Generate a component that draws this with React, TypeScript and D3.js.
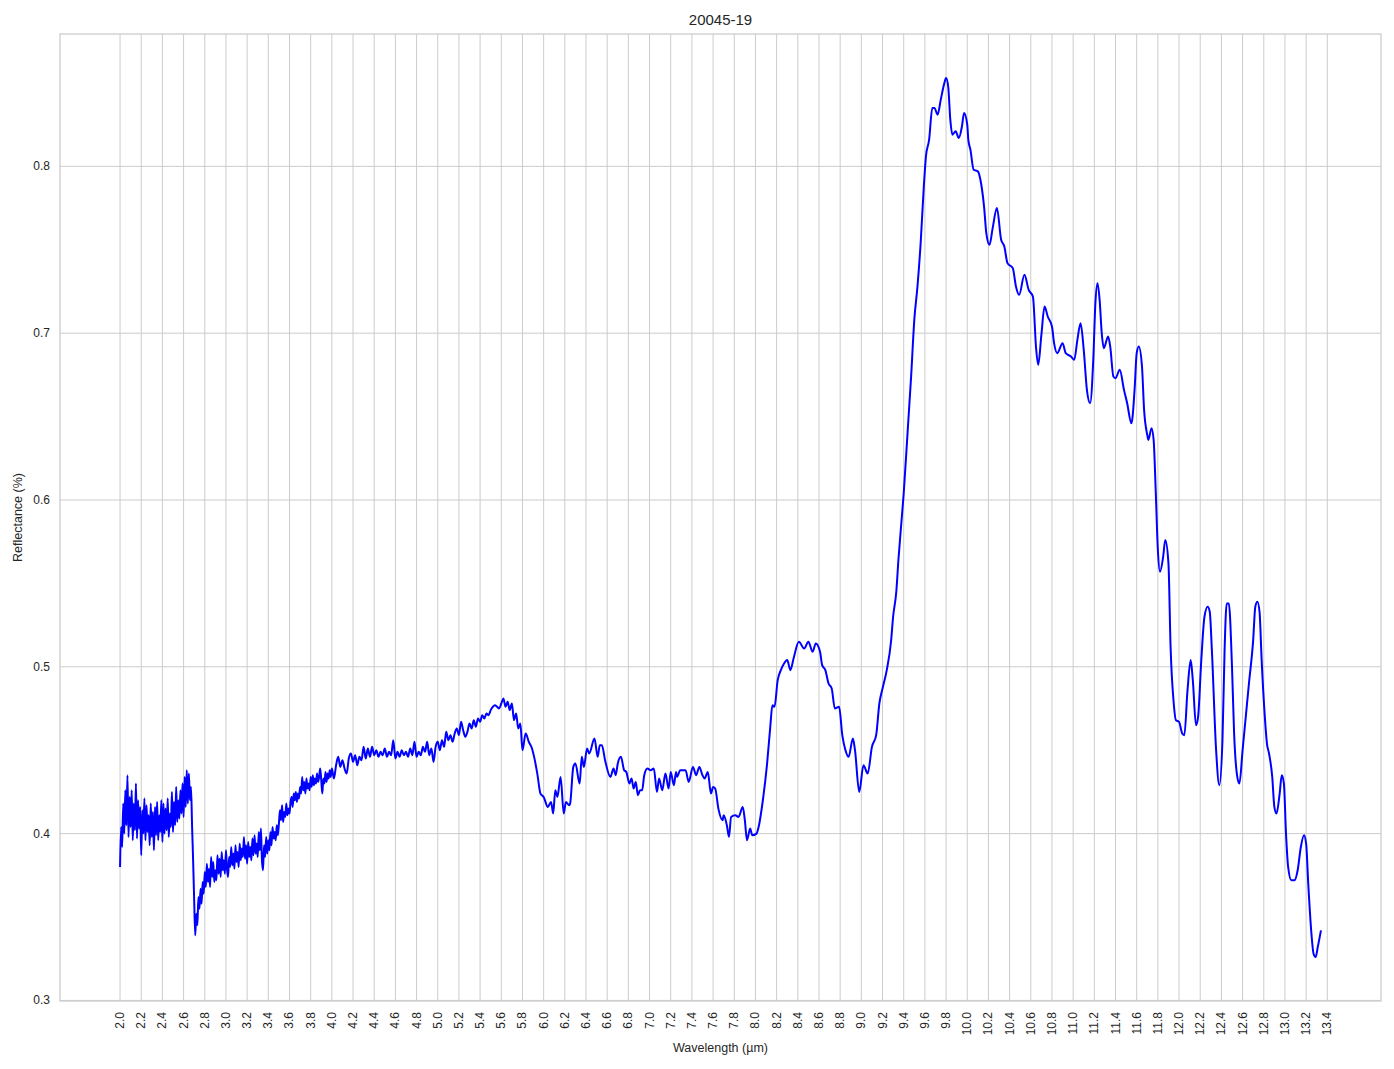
import React from "react";
import * as d3 from "d3";

const chartTitle = "20045-19";
const xLabel = "Wavelength (µm)";
const yLabel = "Reflectance (%)";

const xTicks = d3.range(0, 58).map((i) => +(2.0 + i * 0.2).toFixed(1));
const yTicks = [0.3, 0.4, 0.5, 0.6, 0.7, 0.8];

// 2.00 - 2.70 µm, sampled every 0.01 µm
const nirStart = 2.0;
const nirStep = 0.01;
const nirValues = [
  0.380, 0.404, 0.392, 0.418, 0.400, 0.426, 0.405, 0.435, 0.398, 0.422,
  0.404, 0.426, 0.396, 0.418, 0.402, 0.430, 0.397, 0.420, 0.403, 0.416,
  0.387, 0.414, 0.400, 0.421, 0.396, 0.417, 0.401, 0.411, 0.393, 0.418,
  0.398, 0.413, 0.390, 0.416, 0.399, 0.419, 0.396, 0.411, 0.401, 0.420,
  0.395, 0.418, 0.400, 0.415, 0.402, 0.421, 0.398, 0.412, 0.404, 0.425,
  0.401, 0.419, 0.405, 0.428, 0.407, 0.420, 0.409, 0.426, 0.412, 0.430,
  0.410, 0.434, 0.416, 0.438, 0.418, 0.436, 0.420, 0.428, 0.405, 0.384,
  0.360,
];

// 2.71 - 3.99 µm, sampled every 0.01 µm
const swirStart = 2.71;
const swirStep = 0.01;
const swirValues = [
  0.339, 0.352, 0.345, 0.362, 0.355, 0.367, 0.358, 0.371, 0.364, 0.377,
  0.368, 0.382, 0.371, 0.379, 0.368, 0.386, 0.374, 0.383, 0.371, 0.378,
  0.372, 0.387, 0.376, 0.385, 0.374, 0.389, 0.378, 0.384, 0.376, 0.390,
  0.379, 0.374, 0.386, 0.380, 0.392, 0.381, 0.388, 0.379, 0.393, 0.383,
  0.389, 0.380, 0.394, 0.384, 0.391, 0.386, 0.398, 0.385, 0.393, 0.382,
  0.395, 0.386, 0.392, 0.384, 0.397, 0.387, 0.399, 0.388, 0.394, 0.386,
  0.401, 0.390, 0.403, 0.384, 0.378, 0.393, 0.386, 0.398, 0.388, 0.396,
  0.390, 0.401, 0.393, 0.404, 0.397, 0.401, 0.396, 0.405, 0.399, 0.406,
  0.414, 0.408, 0.417, 0.407, 0.413, 0.410, 0.418, 0.411, 0.415, 0.412,
  0.419, 0.422, 0.416, 0.424, 0.420, 0.425, 0.419, 0.424, 0.421, 0.428,
  0.424, 0.434, 0.426, 0.431, 0.424, 0.433, 0.427, 0.430, 0.426, 0.434,
  0.428, 0.435, 0.429, 0.433, 0.430, 0.436, 0.431, 0.434, 0.439, 0.432,
  0.424, 0.433, 0.430, 0.437, 0.431, 0.436, 0.433, 0.438, 0.434,
];

// 4.00 - 5.80 µm, sampled every 0.02 µm
const mwirStart = 4.0;
const mwirStep = 0.02;
const mwirValues = [
  0.439, 0.433, 0.441, 0.446, 0.440, 0.444, 0.439, 0.436, 0.445, 0.448,
  0.443, 0.447, 0.441, 0.446, 0.444, 0.452, 0.445, 0.451, 0.446, 0.452,
  0.447, 0.450, 0.446, 0.449, 0.447, 0.451, 0.446, 0.449, 0.447, 0.456,
  0.445, 0.449, 0.446, 0.450, 0.447, 0.449, 0.446, 0.451, 0.447, 0.455,
  0.446, 0.449, 0.447, 0.452, 0.449, 0.455, 0.447, 0.451, 0.443, 0.452,
  0.455, 0.450, 0.456, 0.452, 0.461, 0.456, 0.459, 0.455, 0.460, 0.463,
  0.459, 0.467, 0.462, 0.458, 0.461, 0.466, 0.463, 0.468, 0.464, 0.469,
  0.467, 0.471, 0.469, 0.472, 0.471, 0.474, 0.476, 0.477, 0.476, 0.475,
  0.478, 0.481, 0.476, 0.479, 0.474, 0.478, 0.468, 0.472, 0.463, 0.466,
  0.450,
];

// 5.83 - 13.34 µm, [wavelength, reflectance]
const tirPoints = [
  [5.83, 0.460], [5.86, 0.455], [5.89, 0.451], [5.91, 0.446], [5.94, 0.436],
  [5.97, 0.424], [6.00, 0.422], [6.04, 0.416], [6.07, 0.419], [6.09, 0.412],
  [6.11, 0.426], [6.13, 0.422], [6.16, 0.434], [6.19, 0.412], [6.21, 0.419],
  [6.24, 0.417], [6.25, 0.418], [6.28, 0.440], [6.30, 0.442], [6.34, 0.430],
  [6.36, 0.446], [6.38, 0.440], [6.41, 0.451], [6.43, 0.448], [6.48, 0.457],
  [6.51, 0.446], [6.53, 0.453], [6.55, 0.453], [6.58, 0.444], [6.63, 0.434],
  [6.66, 0.439], [6.68, 0.435], [6.70, 0.442], [6.73, 0.446], [6.76, 0.438],
  [6.78, 0.437], [6.81, 0.430], [6.83, 0.433], [6.85, 0.427], [6.87, 0.431],
  [6.89, 0.423], [6.91, 0.426], [6.93, 0.426], [6.95, 0.435], [6.98, 0.439],
  [7.01, 0.438], [7.04, 0.439], [7.07, 0.425], [7.09, 0.433], [7.12, 0.426],
  [7.15, 0.436], [7.18, 0.427], [7.20, 0.437], [7.23, 0.429], [7.25, 0.437],
  [7.26, 0.434], [7.29, 0.438], [7.32, 0.438], [7.34, 0.438], [7.37, 0.431],
  [7.41, 0.440], [7.44, 0.435], [7.47, 0.440], [7.50, 0.435], [7.52, 0.433],
  [7.55, 0.437], [7.58, 0.424], [7.60, 0.428], [7.62, 0.427], [7.65, 0.415],
  [7.69, 0.408], [7.70, 0.411], [7.73, 0.405], [7.75, 0.398], [7.77, 0.410],
  [7.81, 0.411], [7.84, 0.410], [7.88, 0.416], [7.90, 0.408], [7.92, 0.396],
  [7.95, 0.403], [7.97, 0.399], [8.01, 0.400], [8.03, 0.404], [8.07, 0.420],
  [8.11, 0.442], [8.14, 0.464], [8.16, 0.477], [8.18, 0.476], [8.21, 0.492],
  [8.24, 0.498], [8.27, 0.502], [8.30, 0.504], [8.33, 0.498], [8.36, 0.505],
  [8.41, 0.515], [8.46, 0.511], [8.50, 0.515], [8.54, 0.509], [8.57, 0.514],
  [8.61, 0.509], [8.63, 0.501], [8.66, 0.498], [8.69, 0.490], [8.72, 0.487],
  [8.75, 0.475], [8.79, 0.476], [8.82, 0.459], [8.85, 0.450], [8.88, 0.446],
  [8.92, 0.457], [8.94, 0.450], [8.98, 0.425], [9.02, 0.441], [9.06, 0.436],
  [9.10, 0.452], [9.14, 0.459], [9.17, 0.478], [9.20, 0.487], [9.24, 0.498],
  [9.28, 0.515], [9.30, 0.530], [9.33, 0.545], [9.35, 0.564], [9.38, 0.588],
  [9.40, 0.604], [9.44, 0.644], [9.47, 0.674], [9.50, 0.708], [9.53, 0.728],
  [9.56, 0.754], [9.59, 0.788], [9.61, 0.806], [9.64, 0.816], [9.67, 0.835],
  [9.69, 0.835], [9.72, 0.831], [9.75, 0.840], [9.78, 0.849], [9.80, 0.853],
  [9.82, 0.848], [9.84, 0.828], [9.86, 0.819], [9.89, 0.821], [9.92, 0.817],
  [9.95, 0.824], [9.97, 0.832], [10.00, 0.825], [10.01, 0.816], [10.03, 0.810],
  [10.06, 0.798], [10.10, 0.797], [10.13, 0.790], [10.16, 0.775], [10.18, 0.760],
  [10.21, 0.753], [10.24, 0.763], [10.28, 0.775], [10.32, 0.756], [10.35, 0.752],
  [10.38, 0.742], [10.43, 0.739], [10.46, 0.728], [10.49, 0.723], [10.54, 0.735],
  [10.58, 0.726], [10.62, 0.722], [10.65, 0.691], [10.67, 0.681], [10.70, 0.699],
  [10.73, 0.716], [10.76, 0.710], [10.80, 0.704], [10.82, 0.694], [10.85, 0.688],
  [10.90, 0.694], [10.93, 0.688], [10.98, 0.686], [11.01, 0.684], [11.04, 0.696],
  [11.07, 0.706], [11.10, 0.690], [11.13, 0.666], [11.16, 0.658], [11.19, 0.684],
  [11.21, 0.718], [11.23, 0.730], [11.25, 0.720], [11.27, 0.700], [11.29, 0.691],
  [11.33, 0.698], [11.35, 0.692], [11.38, 0.674], [11.40, 0.673], [11.44, 0.678],
  [11.48, 0.666], [11.51, 0.658], [11.55, 0.646], [11.58, 0.666], [11.60, 0.688],
  [11.62, 0.692], [11.65, 0.680], [11.67, 0.654], [11.70, 0.639], [11.71, 0.636],
  [11.74, 0.643], [11.76, 0.636], [11.78, 0.605], [11.80, 0.570], [11.82, 0.557],
  [11.85, 0.566], [11.87, 0.576], [11.90, 0.562], [11.92, 0.512], [11.95, 0.478],
  [11.97, 0.468], [12.00, 0.467], [12.03, 0.460], [12.05, 0.459], [12.08, 0.486],
  [12.11, 0.504], [12.13, 0.492], [12.16, 0.465], [12.18, 0.470], [12.21, 0.504],
  [12.24, 0.530], [12.27, 0.536], [12.29, 0.533], [12.31, 0.510], [12.35, 0.450],
  [12.38, 0.429], [12.41, 0.456], [12.43, 0.510], [12.45, 0.538], [12.47, 0.538],
  [12.50, 0.500], [12.52, 0.460], [12.55, 0.434], [12.57, 0.430], [12.60, 0.450],
  [12.63, 0.470], [12.66, 0.490], [12.70, 0.516], [12.72, 0.536], [12.74, 0.539],
  [12.76, 0.533], [12.78, 0.504], [12.81, 0.470], [12.83, 0.454], [12.85, 0.448],
  [12.88, 0.434], [12.90, 0.416], [12.92, 0.412], [12.95, 0.424], [12.97, 0.435],
  [12.99, 0.430], [13.01, 0.400], [13.03, 0.380], [13.06, 0.372], [13.09, 0.372],
  [13.12, 0.378], [13.15, 0.392], [13.18, 0.399], [13.20, 0.394], [13.22, 0.370],
  [13.25, 0.340], [13.27, 0.328], [13.29, 0.326], [13.31, 0.332], [13.34, 0.342],
];

function sampled(start: number, step: number, values: number[]) {
  return values.map((v, i) => [+(start + i * step).toFixed(3), v] as [number, number]);
}

const spectrum: [number, number][] = [
  ...sampled(nirStart, nirStep, nirValues),
  ...sampled(swirStart, swirStep, swirValues),
  ...sampled(mwirStart, mwirStep, mwirValues),
  ...(tirPoints as [number, number][]),
];

const W = 1394;
const H = 1069;
const M = { left: 60, right: 1381, top: 34, bottom: 1001 };
const FONT = "'Liberation Sans', Arial, sans-serif";
const GRID = "#cccccc";
const TEXT = "#262626";

export default function App() {
  const xExt = d3.extent(spectrum, (d) => d[0]) as [number, number];
  const yExt = d3.extent(spectrum, (d) => d[1]) as [number, number];
  const xPad = (xExt[1] - xExt[0]) * 0.05;
  const yPad = (yExt[1] - yExt[0]) * 0.05;
  const x = d3.scaleLinear().domain([xExt[0] - xPad, xExt[1] + xPad]).range([M.left, M.right]);
  const y = d3.scaleLinear().domain([yExt[0] - yPad, yExt[1] + yPad]).range([M.bottom, M.top]);

  const line = d3
    .line<[number, number]>()
    .x((d) => x(d[0]))
    .y((d) => y(d[1]))
    .curve(d3.curveMonotoneX);

  const visibleY = yTicks.filter((t) => y(t) <= M.bottom + 0.5 && y(t) >= M.top);

  return (
    <svg
      width={W}
      height={H}
      style={{ position: "absolute", left: 0, top: 0, background: "#fff" }}
      fontFamily={FONT}
    >
      <rect x={0} y={0} width={W} height={H} fill="#fff" />
      {xTicks.map((t) => (
        <line key={"gx" + t} x1={x(t)} x2={x(t)} y1={M.top} y2={M.bottom} stroke={GRID} strokeWidth={1} />
      ))}
      {visibleY.map((t) => (
        <line key={"gy" + t} x1={M.left} x2={M.right} y1={y(t)} y2={y(t)} stroke={GRID} strokeWidth={1} />
      ))}
      <rect
        x={M.left}
        y={M.top}
        width={M.right - M.left}
        height={M.bottom - M.top}
        fill="none"
        stroke={GRID}
        strokeWidth={1.3}
      />
      <path d={line(spectrum) || ""} fill="none" stroke="#0000ff" strokeWidth={2} strokeLinejoin="round" />
      {xTicks.map((t) => (
        <text
          key={"tx" + t}
          transform={`translate(${x(t) + 4},${M.bottom + 11}) rotate(-90)`}
          textAnchor="end"
          fontSize={12}
          fill={TEXT}
        >
          {t.toFixed(1)}
        </text>
      ))}
      {visibleY.map((t) => (
        <text key={"ty" + t} x={M.left - 10} y={y(t) + 4} textAnchor="end" fontSize={12} fill={TEXT}>
          {t.toFixed(1)}
        </text>
      ))}
      <text x={(M.left + M.right) / 2} y={25} textAnchor="middle" fontSize={15} fill={TEXT}>
        {chartTitle}
      </text>
      <text x={(M.left + M.right) / 2} y={1052} textAnchor="middle" fontSize={12.5} fill={TEXT}>
        {xLabel}
      </text>
      <text
        transform={`translate(22,${(M.top + M.bottom) / 2}) rotate(-90)`}
        textAnchor="middle"
        fontSize={12.5}
        fill={TEXT}
      >
        {yLabel}
      </text>
    </svg>
  );
}
